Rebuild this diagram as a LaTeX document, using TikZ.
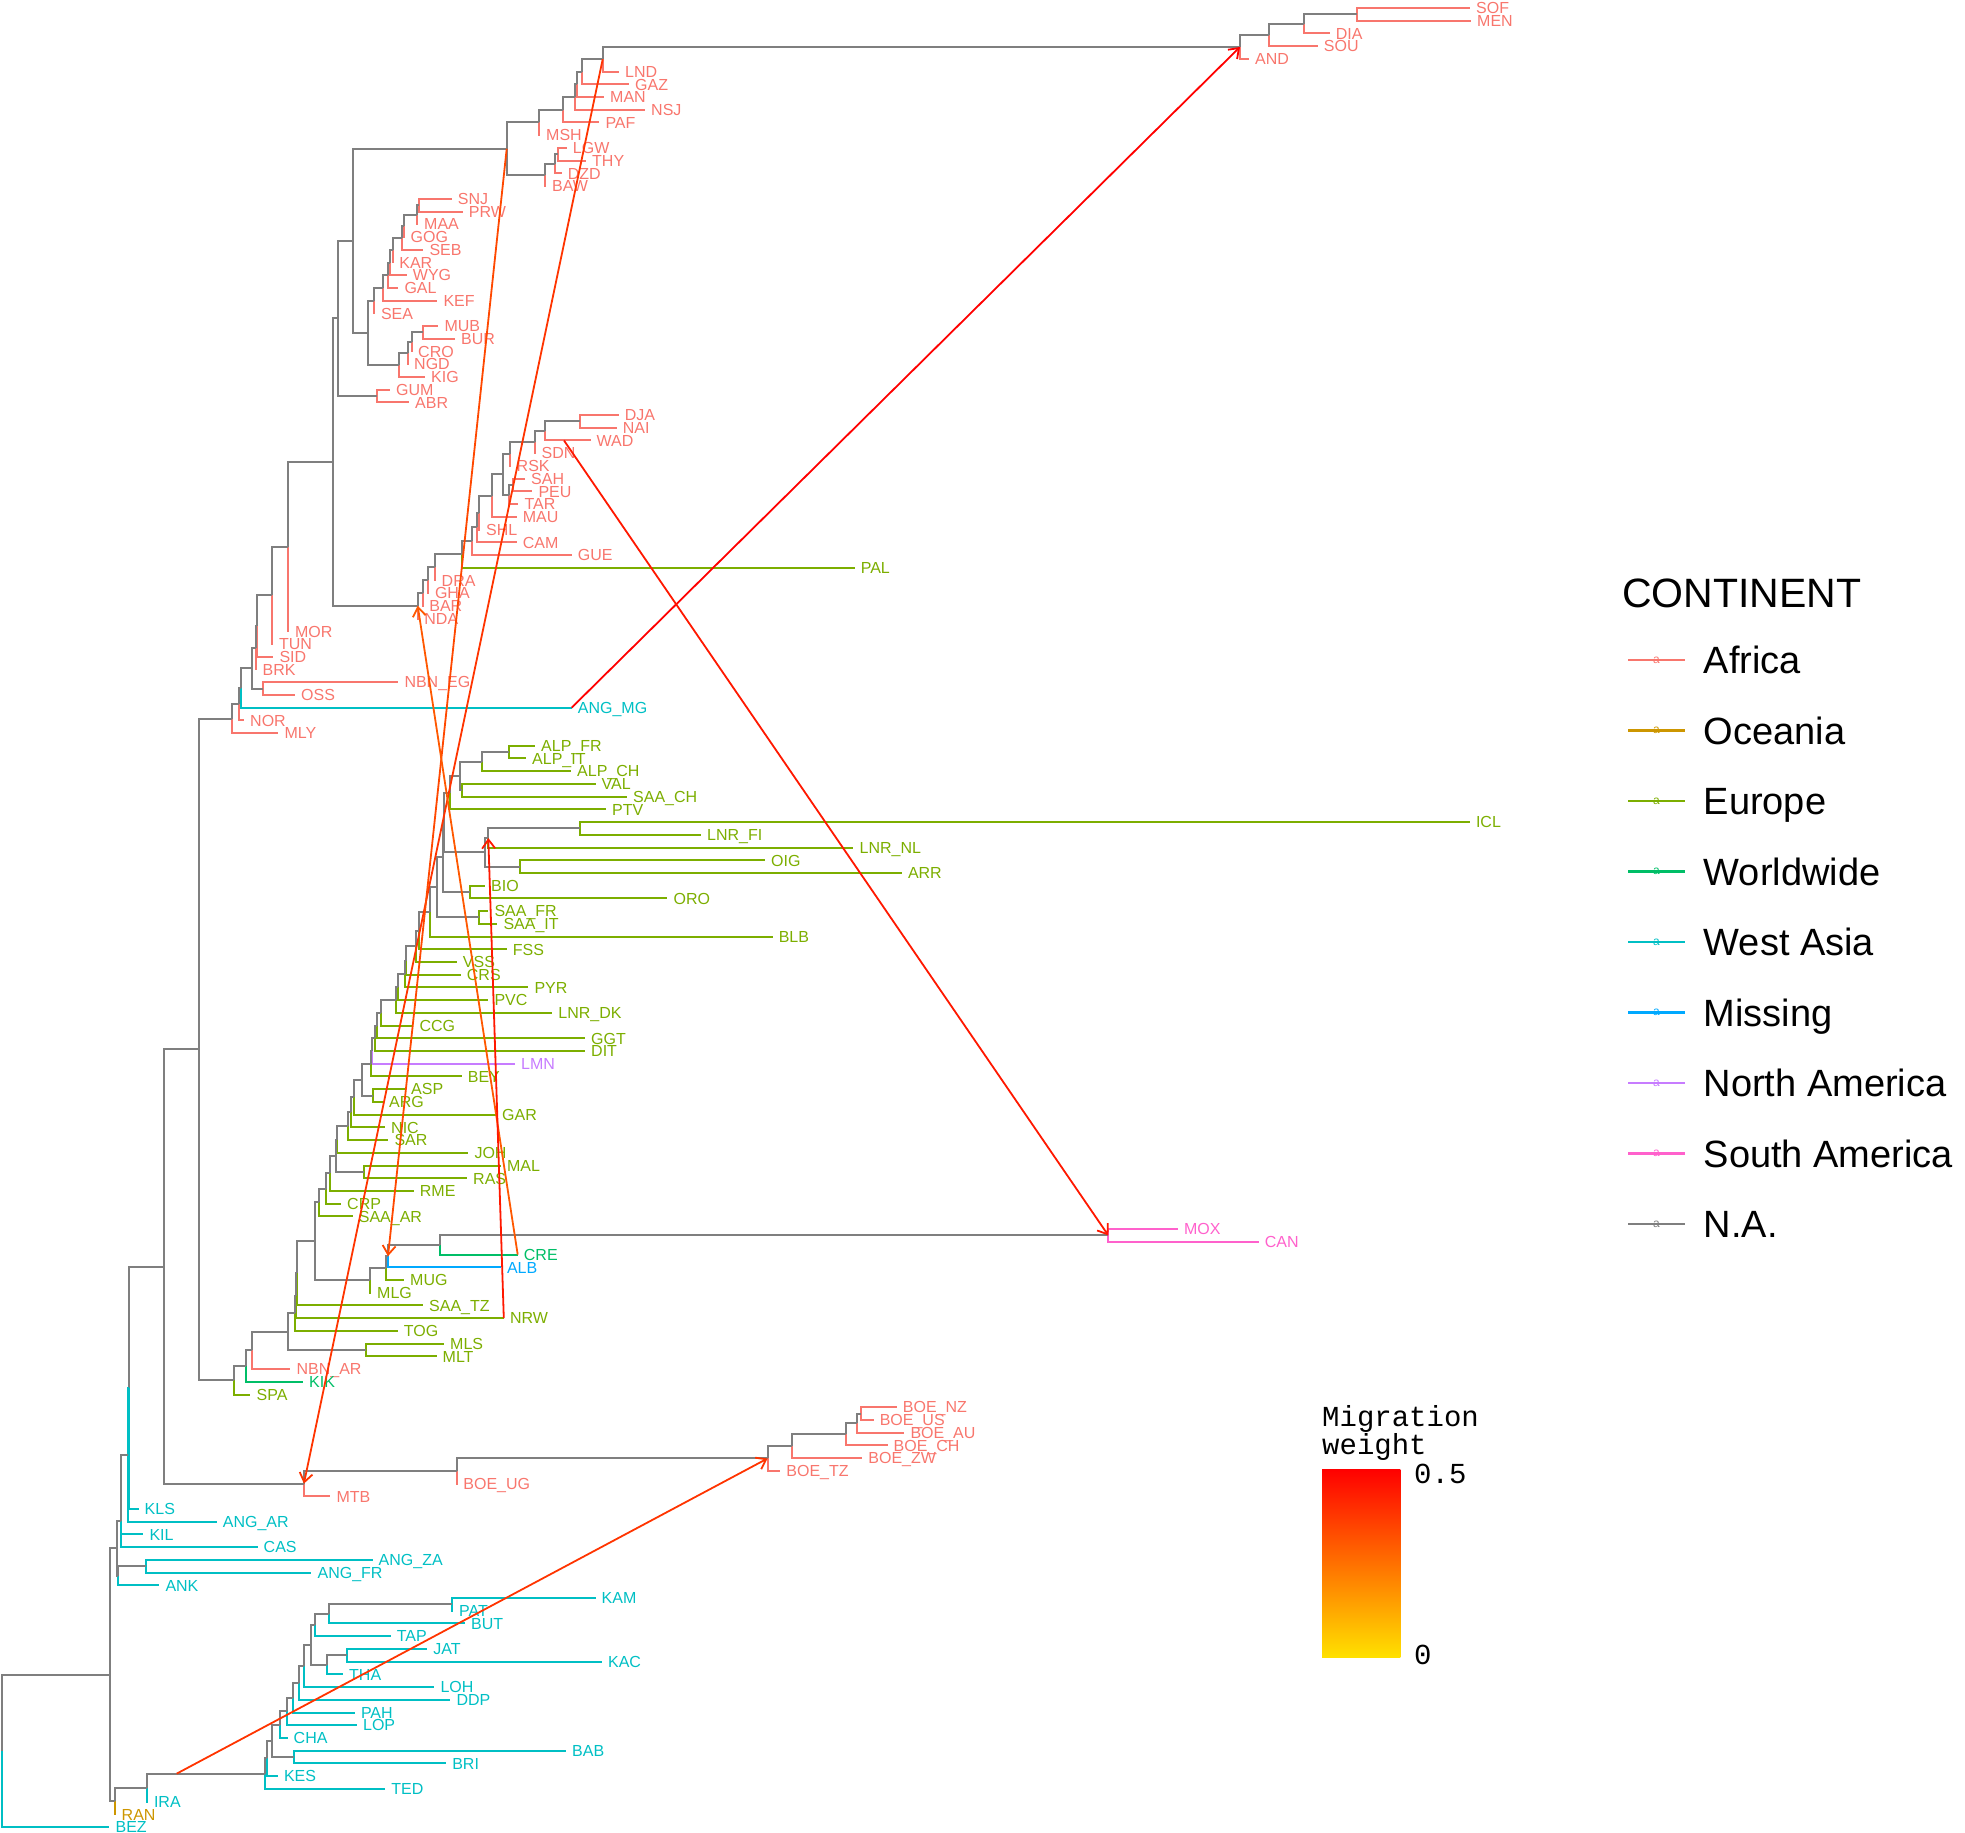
\documentclass[tikz,border=0pt]{standalone}
\usepackage{fontspec}
\setmainfont{Liberation Sans}
\newfontfamily\cbfont{Liberation Mono}
\usetikzlibrary{arrows.meta,calc}

\definecolor{afr}{HTML}{F8766D}
\definecolor{oce}{HTML}{CD9600}
\definecolor{eur}{HTML}{7CAE00}
\definecolor{ww}{HTML}{00BE67}
\definecolor{wa}{HTML}{00BFC4}
\definecolor{mis}{HTML}{00A9FF}
\definecolor{nam}{HTML}{C77CFF}
\definecolor{sam}{HTML}{FF61CC}
\definecolor{na}{HTML}{7F7F7F}
\definecolor{cbyel}{HTML}{FFE100}
\definecolor{mra}{HTML}{FF0000}
\definecolor{mrb}{HTML}{FF1800}
\definecolor{mrc}{HTML}{FF3400}
\definecolor{mrd}{HTML}{FF4800}
\definecolor{mre}{HTML}{FF5800}

\tikzset{
  br/.style={line width=2pt},
  tiplab/.style={anchor=west, inner sep=0pt, xshift=6pt, text height=11.5pt, text depth=0pt,
    font=\fontsize{16}{16}\selectfont},
  mig/.style={line width=1.8pt, -{Straight Barb[length=9pt,width=13pt]}},
  keylab/.style={anchor=west, inner sep=0pt, text height=27pt, text depth=0pt,
    font=\fontsize{38}{38}\selectfont},
  cblab/.style={anchor=west, inner sep=0pt, font=\cbfont\fontsize{29}{29}\selectfont},
}

\begin{document}
\begin{tikzpicture}[x=1pt,y=-1pt]
\useasboundingbox (0,0) rectangle (1965,1832);

% tips: name / row / end of branch / colour / label
\foreach \nm/\i/\px/\c/\t in {
  SOF/1/1470/afr/SOF, MEN/2/1471/afr/MEN, DIA/3/1329.7/afr/DIA, SOU/4/1317.7/afr/SOU,
  AND/5/1249/afr/AND, LND/6/619/afr/LND, GAZ/7/629/afr/GAZ, MAN/8/604/afr/MAN,
  NSJ/9/645/afr/NSJ, PAF/10/599.3/afr/PAF, MSH/11/540/afr/MSH, LGW/12/566.7/afr/LGW,
  THY/13/586/afr/THY, DZD/14/561.7/afr/DZD, BAW/15/546/afr/BAW, SNJ/16/451.7/afr/SNJ,
  PRW/17/462.7/afr/PRW, MAA/18/418/afr/MAA, GOG/19/404.5/afr/GOG, SEB/20/423.3/afr/SEB,
  KAR/21/393.2/afr/KAR, WYG/22/406.7/afr/WYG, GAL/23/398.3/afr/GAL, KEF/24/437.3/afr/KEF,
  SEA/25/374.8/afr/SEA, MUB/26/438.3/afr/MUB, BUR/27/455/afr/BUR, CRO/28/412/afr/CRO,
  NGD/29/408/afr/NGD, KIG/30/425/afr/KIG, GUM/31/390/afr/GUM, ABR/32/409/afr/ABR,
  DJA/33/618.7/afr/DJA, NAI/34/616.6/afr/NAI, WAD/35/590.5/afr/WAD, SDN/36/535.5/afr/SDN,
  RSK/37/510.5/afr/RSK, SAH/38/525/afr/SAH, PEU/39/532.3/afr/PEU, TAR/40/518.3/afr/TAR,
  MAU/41/516.7/afr/MAU, SHL/42/480/afr/SHL, CAM/43/516.7/afr/CAM, GUE/44/571.7/afr/GUE,
  PAL/45/854.6/eur/PAL, DRA/46/435.5/afr/DRA, GHA/47/428.8/afr/GHA, BAR/48/423.2/afr/BAR,
  NDA/49/418.2/afr/NDA, MOR/50/288.8/afr/MOR, TUN/51/272.8/afr/TUN, SID/52/273.3/afr/SID,
  BRK/53/256.5/afr/BRK, NBNEG/54/398.3/afr/NBN\_EG, OSS/55/295/afr/OSS,
  ANGMG/56/571.7/wa/ANG\_MG, NOR/57/244/afr/NOR, MLY/58/278.3/afr/MLY,
  ALPFR/59/535/eur/ALP\_FR, ALPIT/60/526/eur/ALP\_IT, ALPCH/61/571/eur/ALP\_CH,
  VAL/62/595.5/eur/VAL, SAACH/63/627/eur/SAA\_CH, PTV/64/606/eur/PTV,
  ICL/65/1469.8/eur/ICL, LNRFI/66/701/eur/LNR\_FI, LNRNL/67/853.4/eur/LNR\_NL,
  OIG/68/765/eur/OIG, ARR/69/901.8/eur/ARR, BIO/70/485/eur/BIO, ORO/71/667.4/eur/ORO,
  SAAFR/72/488.3/eur/SAA\_FR, SAAIT/73/497.3/eur/SAA\_IT, BLB/74/772.6/eur/BLB,
  FSS/75/506.7/eur/FSS, VSS/76/456.7/eur/VSS, CRS/77/460.7/eur/CRS, PYR/78/528.3/eur/PYR,
  PVC/79/488.3/eur/PVC, LNRDK/80/552.2/eur/LNR\_DK, CCG/81/413.3/eur/CCG,
  GGT/82/585/eur/GGT, DIT/83/585/eur/DIT, LMN/84/515/nam/LMN, BEY/85/461.7/eur/BEY,
  ASP/86/405/eur/ASP, ARG/87/383/eur/ARG, GAR/88/496/eur/GAR, NIC/89/385/eur/NIC,
  SAR/90/388.3/eur/SAR, JOH/91/468.3/eur/JOH, MAL/92/500.8/eur/MAL, RAS/93/467/eur/RAS,
  RME/94/413.7/eur/RME, CRP/95/341/eur/CRP, SAAAR/96/352.7/eur/SAA\_AR,
  MOX/97/1177.9/sam/MOX, CAN/98/1258.7/sam/CAN, CRE/99/517.7/ww/CRE,
  ALB/100/500.8/mis/ALB, MUG/101/404/eur/MUG, MLG/102/371/eur/MLG,
  SAATZ/103/423/eur/SAA\_TZ, NRW/104/503.8/eur/NRW, TOG/105/397.7/eur/TOG,
  MLS/106/444/eur/MLS, MLT/107/436.5/eur/MLT, NBNAR/108/290.4/afr/NBN\_AR,
  KIK/109/303/ww/KIK, SPA/110/250.4/eur/SPA,
  BOENZ/111/896.7/afr/BOE\_NZ, BOEUS/112/873.6/afr/BOE\_US, BOEAU/113/904.3/afr/BOE\_AU,
  BOECH/114/887.5/afr/BOE\_CH, BOEZW/115/862.2/afr/BOE\_ZW, BOETZ/116/780.2/afr/BOE\_TZ,
  BOEUG/117/457.2/afr/BOE\_UG, MTB/118/330.4/afr/MTB,
  KLS/119/138.5/wa/KLS, ANGAR/120/216.7/wa/ANG\_AR, KIL/121/143.3/wa/KIL,
  CAS/122/257.5/wa/CAS, ANGZA/123/372.5/wa/ANG\_ZA, ANGFR/124/311.4/wa/ANG\_FR,
  ANK/125/159.3/wa/ANK, KAM/126/595.5/wa/KAM, PAT/127/453/wa/PAT, BUT/128/465/wa/BUT,
  TAP/129/390.6/wa/TAP, JAT/130/427.2/wa/JAT, KAC/131/601.9/wa/KAC, THA/132/343/wa/THA,
  LOH/133/434.3/wa/LOH, DDP/134/450.3/wa/DDP, PAH/135/354.8/wa/PAH, LOP/136/356.9/wa/LOP,
  CHA/137/287.5/wa/CHA, BAB/138/566/wa/BAB, BRI/139/446.1/wa/BRI, KES/140/277.8/wa/KES,
  TED/141/385.1/wa/TED, IRA/142/147.8/wa/IRA, RAN/143/115.5/oce/RAN, BEZ/144/109.4/wa/BEZ}
{
  \coordinate (\nm) at (\px,{8+12.72*(\i-1)});
  \node[tiplab,text=\c] (l\nm) at (\nm) {\t};
}

% inner nodes: name / x / child / colour / child / colour
\foreach \nm/\px/\a/\ca/\b/\cb in {
  T3/1356.5/SOF/afr/MEN/afr, T2/1303.8/T3/na/DIA/afr, T1/1268.5/T2/na/SOU/afr,
  T0/1240/T1/na/AND/afr, A1/602.7/T0/na/LND/afr, A2/582.3/A1/na/GAZ/afr,
  A3/576.7/A2/na/MAN/afr, A4/575/A3/na/NSJ/afr, A5/563.3/A4/na/PAF/afr,
  A6/539/A5/na/MSH/afr, B1/558.3/LGW/afr/THY/afr, B2/555/B1/na/DZD/afr,
  B3/545/B2/na/BAW/afr, A7/506.7/A6/na/B3/na,
  C1/419.3/SNJ/afr/PRW/afr, C2/417.3/C1/na/MAA/afr, C3/404/C2/na/GOG/afr,
  C4/401.7/C3/na/SEB/afr, C5/392.7/C4/na/KAR/afr, C6/390/C5/na/WYG/afr,
  C7/388.3/C6/na/GAL/afr, C8/383.3/C7/na/KEF/afr, C9/374.3/C8/na/SEA/afr,
  D1/423.3/MUB/afr/BUR/afr, D2/411.7/D1/na/CRO/afr, D3/407.7/D2/na/NGD/afr,
  D4/399/D3/na/KIG/afr, C10/368.3/C9/na/D4/na, A8/353.3/A7/na/C10/na,
  F1/376.7/GUM/afr/ABR/afr, E0/338.3/A8/na/F1/na,
  I1/580/DJA/afr/NAI/afr, I2/545/I1/na/WAD/afr, I3/535/I2/na/SDN/afr,
  I4/510/I3/na/RSK/afr, J1/512.7/SAH/afr/PEU/afr, J2/509.3/J1/na/TAR/afr,
  I5/502.7/I4/na/J2/na, I6/491.7/I5/na/MAU/afr, I7/479.3/I6/na/SHL/afr,
  I8/476.7/I7/na/CAM/afr, I9/472.3/I8/na/GUE/afr, I10/461.7/I9/na/PAL/eur,
  I11/435/I10/na/DRA/afr, I12/428.3/I11/na/GHA/afr, I13/422.7/I12/na/BAR/afr,
  I14/417.7/I13/na/NDA/afr, G0/333.3/E0/na/I14/na,
  K1/288.3/G0/na/MOR/afr, K2/272.3/K1/na/TUN/afr, K3/257.3/K2/na/SID/afr,
  K4/256/K3/na/BRK/afr, L1/263.3/NBNEG/afr/OSS/afr, K5/251.7/K4/na/L1/na,
  K6/240.5/K5/na/ANGMG/wa, K7/239/K6/na/NOR/afr, K8/231.7/K7/na/MLY/afr,
  U1/509.3/ALPFR/eur/ALPIT/eur, U2/481.8/U1/na/ALPCH/eur, VS/461.7/VAL/eur/SAACH/eur,
  U3/459.8/U2/na/VS/na, U4/450.2/U3/na/PTV/eur, W1/579.6/ICL/eur/LNRFI/eur,
  W2/488.3/W1/na/LNRNL/eur, W3/520/OIG/eur/ARR/eur, V1/485/W2/na/W3/na,
  V2/444/U4/na/V1/na, BO/469.5/BIO/eur/ORO/eur, X1/442.7/V2/na/BO/na,
  SF/479.2/SAAFR/eur/SAAIT/eur, X2/437.3/X1/na/SF/na, X3/429.7/X2/na/BLB/eur,
  X4/419.3/X3/na/FSS/eur, X5/416/X4/na/VSS/eur, X6/405.5/X5/na/CRS/eur,
  X7/404.5/X6/na/PYR/eur, X8/397.7/X7/na/PVC/eur, X9/395.7/X8/na/LNRDK/eur,
  X10/380.7/X9/na/CCG/eur, X11/376.7/X10/na/GGT/eur, X12/375/X11/na/DIT/eur,
  X13/371.5/X12/na/LMN/nam, X14/370.8/X13/na/BEY/eur, AA/373.3/ASP/eur/ARG/eur,
  X15/361.7/X14/na/AA/na, X16/354.3/X15/na/GAR/eur, X17/351/X16/na/NIC/eur,
  X18/348.4/X17/na/SAR/eur, X19/337/X18/na/JOH/eur, MR/364/MAL/eur/RAS/eur,
  X20/336/X19/na/MR/na, X21/330.4/X20/na/RME/eur, X22/326.2/X21/na/CRP/eur,
  X23/319/X22/na/SAAAR/eur, MC/1108.4/MOX/sam/CAN/sam, S1/439.8/MC/na/CRE/ww,
  S2/388/S1/na/ALB/mis, S3/386.4/S2/na/MUG/eur, Q0/370.4/S3/na/MLG/eur,
  P1/314.8/X23/na/Q0/na, N5/296.7/P1/na/SAATZ/eur, N6/295.6/N5/na/NRW/eur,
  N4/294.6/N6/na/TOG/eur, MM/366.2/MLS/eur/MLT/eur, N3/288.3/N4/na/MM/na,
  N2/251.7/N3/na/NBNAR/afr, N1/246.2/N2/na/KIK/ww, N0/233.6/N1/na/SPA/eur,
  K9/199/K8/na/N0/na,
  Z1/861/BOENZ/afr/BOEUS/afr, Z2/856.7/Z1/na/BOEAU/afr, Z3/846.2/Z2/na/BOECH/afr,
  Z4/792.4/Z3/na/BOEZW/afr, Z5/767.5/Z4/na/BOETZ/afr, Z6/456.6/Z5/na/BOEUG/afr,
  Z7/303.9/Z6/na/MTB/afr, K10/164.1/K9/na/Z7/na,
  K11a/128.8/K10/na/KLS/wa, K11b/128.3/K11a/wa/ANGAR/wa, K12a/121.3/K11b/na/KIL/wa,
  K12b/121/K12a/na/CAS/wa, AF/145.5/ANGZA/wa/ANGFR/wa, AK/117.5/AF/na/ANK/wa,
  K15/116.8/K12b/na/AK/na,
  KP/452.4/KAM/wa/PAT/wa, KPB/329/KP/na/BUT/wa, KT/314.5/KPB/na/TAP/wa,
  JK/347.2/JAT/wa/KAC/wa, JKT/327/JK/na/THA/wa, H1/311.2/KT/na/JKT/na,
  H2/303.6/H1/na/LOH/wa, H3/298.5/H2/na/DDP/wa, R1/292.9/H3/na/PAH/wa,
  R2/286.5/R1/na/LOP/wa, R3/280/R2/na/CHA/wa, BB/293.8/BAB/wa/BRI/wa,
  R4/272/R3/na/BB/na, R5/266.5/R4/na/KES/wa, R6/265.1/R5/na/TED/wa,
  KIR/147.3/R6/na/IRA/wa, KR/115/KIR/na/RAN/oce, KA/110/K15/na/KR/na,
  RT/2/KA/na/BEZ/wa}
{
  \path let \p1=(\a), \p2=(\b) in coordinate (\nm) at (\px,{0.5*(\y1+\y2)});
  \draw[br,\ca] (\nm) |- (\a);
  \draw[br,\cb] (\nm) |- (\b);
}

% migration links
\coordinate (mWAD) at ([xshift=-26.5pt]WAD);
\coordinate (mIRA) at ([xshift=-88.4pt]R6);
\draw[mig,mra] (ANGMG) -- (T0);
\draw[mig,mrb] (mWAD) -- (MC);
\draw[mig,mrc] (mIRA) -- (Z5);
\draw[mig,mrc] (A1) -- (Z7);
\draw[mig,mrd] (A7) -- (S2);
\draw[mig,mre] (CRE) -- (I14);
\draw[mig,mrb] (NRW) -- (W2);

% legend
\node[anchor=west, inner sep=0pt, text height=29pt, text depth=0pt,
  font=\fontsize{41}{41}\selectfont] (ttl) at (1622,593) {CONTINENT};
\foreach \k/\c/\t in {0/afr/Africa, 1/oce/Oceania, 2/eur/Europe, 3/ww/Worldwide,
  4/wa/West Asia, 5/mis/Missing, 6/nam/North America, 7/sam/South America, 8/na/N.A.}
{
  \coordinate (k\k) at (1628,{660+70.5*\k});
  \draw[line width=2.3pt,\c] (k\k) -- ++(57,0);
  \node[text=\c, inner sep=0pt, font=\fontsize{12}{12}\selectfont] (a\k) at ([xshift=28.5pt]k\k) {a};
  \node[keylab] (e\k) at ([xshift=75.5pt]k\k) {\t};
}

% colour bar
\node[cblab] (cbt1) at (1322,1419) {Migration};
\node[cblab] (cbt2) at (1322,1447) {weight};
\shade[top color=red, bottom color=cbyel] (1322,1469) rectangle (1400.4,1657.7);
\node[cblab] (cbhi) at (1414,1474) {0.5};
\node[cblab] (cblo) at (1414,1655) {0};
\end{tikzpicture}
\end{document}
